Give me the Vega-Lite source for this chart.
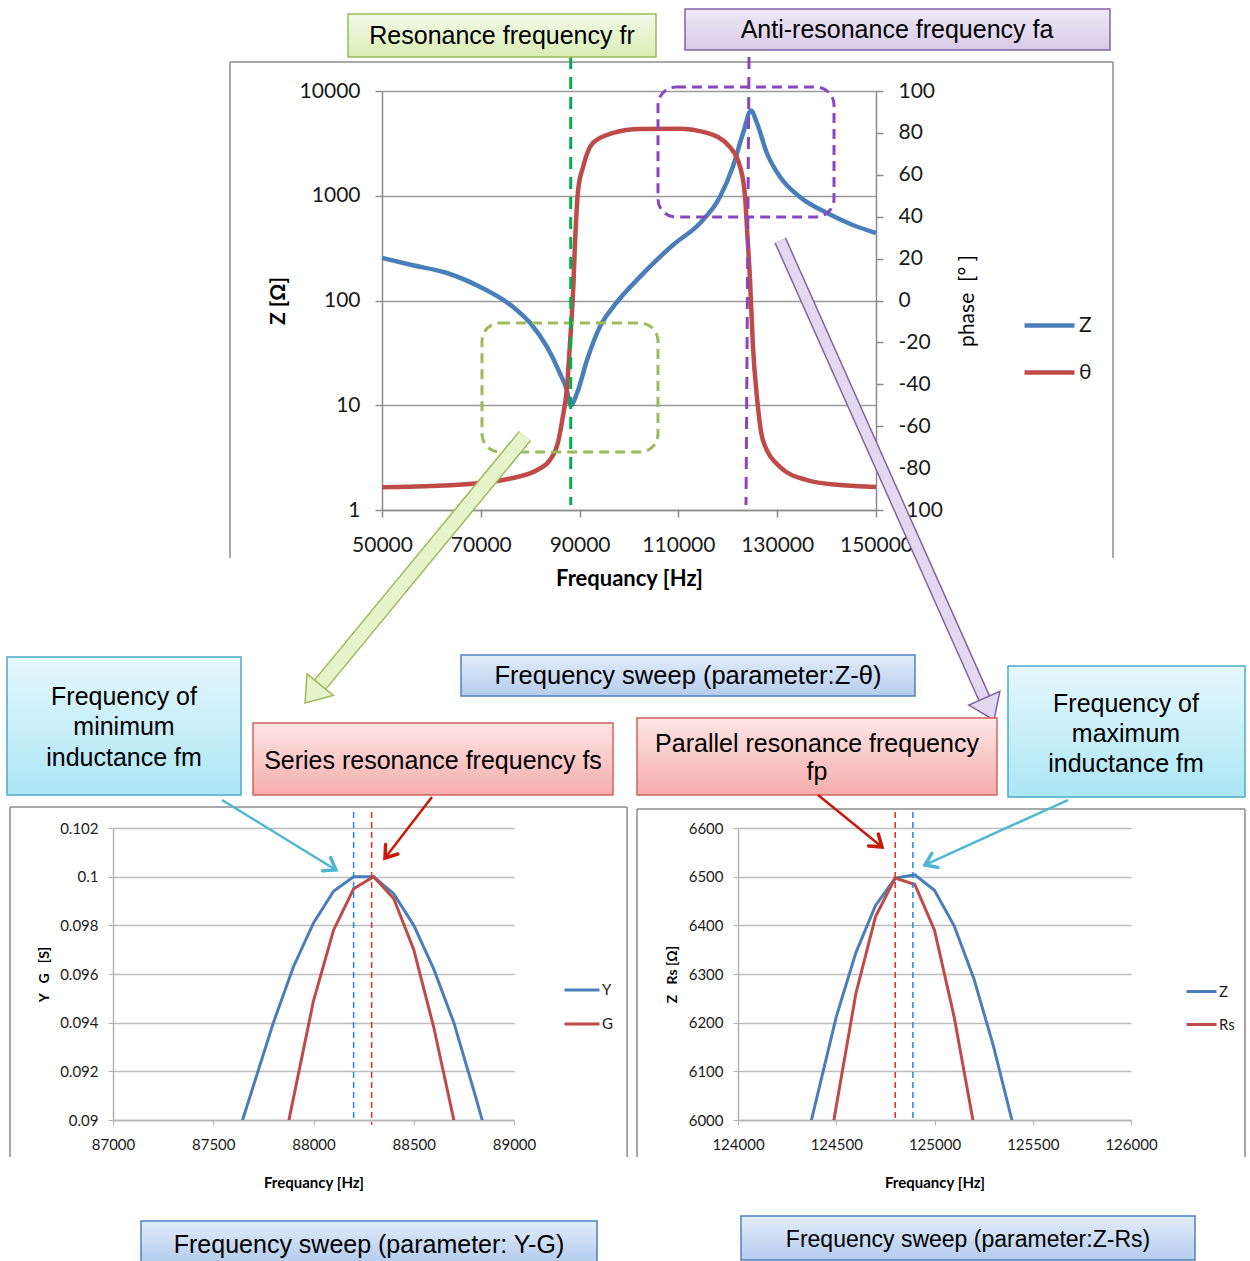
{
"$schema": "https://vega.github.io/schema/vega-lite/v6.json",
"background": "white",
"padding": {"left": 6, "top": 8, "right": 0, "bottom": 0},
"autosize": {"type": "pad"},
"config": {"view": {"stroke": null}, "font": "Lato", "axis": {"labelFont": "Lato", "titleFont": "Lato", "labelColor": "#1a1a1a", "titleColor": "#000"}, "legend": {"labelFont": "Lato", "labelColor": "#1a1a1a"}},
"bounds": "flush",
"spacing": 737,
"resolve": {"scale": {"x": "independent", "y": "independent", "color": "independent"}, "legend": {"color": "independent"}, "axis": {"x": "independent", "y": "independent"}},
"datasets": {
"topZ": [{"f":50000,"Z":255},{"f":56000,"Z":218},{"f":63000,"Z":184},{"f":69800,"Z":135},{"f":76500,"Z":87},{"f":80000,"Z":61},{"f":83400,"Z":36},{"f":86000,"Z":20.3},{"f":87400,"Z":14},{"f":88200,"Z":10},{"f":89500,"Z":13.1},{"f":91500,"Z":27},{"f":94100,"Z":56},{"f":96800,"Z":87},{"f":102200,"Z":168},{"f":108900,"Z":339},{"f":114400,"Z":549},{"f":118400,"Z":973},{"f":121000,"Z":1880},{"f":123100,"Z":3970},{"f":124700,"Z":6500},{"f":125900,"Z":4950},{"f":127900,"Z":2560},{"f":130600,"Z":1510},{"f":134600,"Z":973},{"f":140100,"Z":684},{"f":145300,"Z":526},{"f":150000,"Z":441}],
"topP": [{"f":50000,"p":-89.2},{"f":59700,"p":-88.6},{"f":69800,"p":-87.1},{"f":76500,"p":-84.7},{"f":81400,"p":-80.9},{"f":84000,"p":-76.1},{"f":85600,"p":-68},{"f":86600,"p":-55.6},{"f":87400,"p":-42.7},{"f":88100,"p":-18.9},{"f":88700,"p":5},{"f":89100,"p":28.9},{"f":89700,"p":52.7},{"f":90700,"p":63.7},{"f":92700,"p":75.2},{"f":96800,"p":80},{"f":102200,"p":81.9},{"f":110000,"p":82},{"f":115800,"p":80},{"f":120400,"p":73.3},{"f":122500,"p":63.7},{"f":123500,"p":49.4},{"f":123900,"p":33.7},{"f":124500,"p":9.8},{"f":125100,"p":-22.2},{"f":125900,"p":-46.1},{"f":127100,"p":-66.6},{"f":130600,"p":-79.5},{"f":136000,"p":-85.7},{"f":142700,"p":-88.1},{"f":150000,"p":-89}],
"bl": [{"f":87600,"s":"Y","v":0.0888},{"f":87700,"s":"Y","v":0.0914},{"f":87800,"s":"Y","v":0.094},{"f":87900,"s":"Y","v":0.0963},{"f":88000,"s":"Y","v":0.0981},{"f":88100,"s":"Y","v":0.0994},{"f":88200,"s":"Y","v":0.1},{"f":88300,"s":"Y","v":0.1},{"f":88400,"s":"Y","v":0.0993},{"f":88500,"s":"Y","v":0.098},{"f":88600,"s":"Y","v":0.0962},{"f":88700,"s":"Y","v":0.094},{"f":88800,"s":"Y","v":0.0912},{"f":88900,"s":"Y","v":0.0883},
{"f":87800,"s":"G","v":0.0869},{"f":87900,"s":"G","v":0.0909},{"f":88000,"s":"G","v":0.0949},{"f":88100,"s":"G","v":0.0978},{"f":88200,"s":"G","v":0.0995},{"f":88300,"s":"G","v":0.1},{"f":88400,"s":"G","v":0.0991},{"f":88500,"s":"G","v":0.097},{"f":88600,"s":"G","v":0.0938},{"f":88700,"s":"G","v":0.09},{"f":88800,"s":"G","v":0.086}],
"br": [{"f":124300,"s":"Z","v":5876},{"f":124400,"s":"Z","v":6044},{"f":124500,"s":"Z","v":6212},{"f":124600,"s":"Z","v":6344},{"f":124700,"s":"Z","v":6441},{"f":124800,"s":"Z","v":6497},{"f":124900,"s":"Z","v":6504},{"f":125000,"s":"Z","v":6472},{"f":125100,"s":"Z","v":6399},{"f":125200,"s":"Z","v":6291},{"f":125300,"s":"Z","v":6152},{"f":125400,"s":"Z","v":5990},{"f":125500,"s":"Z","v":5830},
{"f":124400,"s":"Rs","v":5790},{"f":124500,"s":"Rs","v":6028},{"f":124600,"s":"Rs","v":6260},{"f":124700,"s":"Rs","v":6418},{"f":124800,"s":"Rs","v":6497},{"f":124900,"s":"Rs","v":6484},{"f":125000,"s":"Rs","v":6390},{"f":125100,"s":"Rs","v":6212},{"f":125200,"s":"Rs","v":5990},{"f":125300,"s":"Rs","v":5770}]
},
"vconcat": [
{
"bounds": "flush",
"spacing": 224,
"resolve": {"scale": {"x": "independent", "y": "independent", "color": "independent"}, "legend": {"color": "independent"}},
"hconcat": [
{"width": 45, "height": 419, "data": {"values": [{}]}, "mark": {"type": "text", "text": ""}},
{
"width": 494, "height": 419,
"layer": [
{"data": {"name": "topZ"}, "mark": {"type": "line", "strokeWidth": 4.5, "strokeJoin": "round", "interpolate": "monotone"},
 "encoding": {
  "x": {"field": "f", "type": "quantitative", "scale": {"domain": [50000, 150000], "zero": false, "nice": false}, "axis": {"title": "Frequancy [Hz]", "values": [50000,70000,90000,110000,130000,150000], "format": "d", "grid": false, "tickSize": 7, "tickColor": "#8c8c8c", "tickWidth": 1.5, "domainColor": "#8c8c8c", "domainWidth": 1.5, "labelFontSize": 21, "labelPadding": 17, "labelFlush": false, "labelOverlap": false, "titleFontSize": 22, "titleFontWeight": "bold", "titlePadding": 13}},
  "y": {"field": "Z", "type": "quantitative", "scale": {"type": "log", "domain": [1, 10000]}, "axis": {"orient": "left", "title": "Z [Ω]", "values": [1,10,100,1000,10000], "format": "d", "grid": true, "gridColor": "#9a9a9a", "gridWidth": 1.5, "tickSize": 7, "tickColor": "#8c8c8c", "tickWidth": 1.5, "domainColor": "#8c8c8c", "domainWidth": 1.5, "labelFontSize": 21, "labelPadding": 15, "titleFontSize": 21, "titleFontWeight": "bold", "titlePadding": 11}},
  "color": {"datum": "Z", "scale": {"domain": ["Z", "θ"], "range": ["#4a7ebb", "#be4b48"]}, "legend": {"title": null, "orient": "none", "legendX": 640, "legendY": 207, "symbolType": "stroke", "symbolSize": 2500, "symbolStrokeWidth": 4.5, "labelFontSize": 21, "labelOffset": 2, "rowPadding": 9}}
 }},
{"data": {"name": "topP"}, "mark": {"type": "line", "strokeWidth": 4.5, "strokeJoin": "round", "interpolate": "monotone"},
 "encoding": {
  "x": {"field": "f", "type": "quantitative", "scale": {"domain": [50000, 150000], "zero": false, "nice": false}, "axis": {"title": "Frequancy [Hz]"}},
  "y": {"field": "p", "type": "quantitative", "scale": {"domain": [-100, 100], "zero": false, "nice": false}, "axis": {"orient": "right", "title": "phase\u00a0\u00a0[°\u00a0]", "values": [-100,-80,-60,-40,-20,0,20,40,60,80,100], "labelExpr": "replace(datum.label, '\u2212', '-')", "grid": false, "tickSize": 7, "tickColor": "#8c8c8c", "tickWidth": 1.5, "domainColor": "#8c8c8c", "domainWidth": 1.5, "labelFontSize": 21, "labelPadding": 15, "titleFontSize": 21, "titleFontWeight": "normal", "titleAngle": 270, "titleBaseline": "top", "titlePadding": 14}},
  "color": {"datum": "θ"}
 }},
{"data": {"values": [{}]},
 "layer": [
  {"mark": {"type": "rule", "stroke": "#8c8c8c", "strokeWidth": 1.5}, "encoding": {"x": {"datum": 19231}, "y": {"datum": 18913, "scale": {"type": "log", "domain": [1, 10000]}, "axis": null}, "y2": {"datum": 0.348}}},
  {"mark": {"type": "rule", "stroke": "#8c8c8c", "strokeWidth": 1.5}, "encoding": {"x": {"datum": 19231}, "x2": {"datum": 197976}, "y": {"datum": 18913, "scale": {"type": "log", "domain": [1, 10000]}, "axis": null}}},
  {"mark": {"type": "rule", "stroke": "#8c8c8c", "strokeWidth": 1.5}, "encoding": {"x": {"datum": 197976}, "y": {"datum": 18913, "scale": {"type": "log", "domain": [1, 10000]}, "axis": null}, "y2": {"datum": 0.348}}},
  {"mark": {"type": "rect", "fill": null, "stroke": "#9bbb59", "strokeWidth": 3, "strokeDash": [10, 6], "cornerRadius": 18}, "encoding": {"x": {"datum": 70243}, "x2": {"datum": 105871}, "y": {"datum": 60.98, "scale": {"type": "log", "domain": [1, 10000]}, "axis": null}, "y2": {"datum": 3.578}}},
  {"mark": {"type": "rect", "fill": null, "stroke": "#8a46bd", "strokeWidth": 3, "strokeDash": [10, 6], "cornerRadius": 18}, "encoding": {"x": {"datum": 105871}, "x2": {"datum": 141498}, "y": {"datum": 10920, "scale": {"type": "log", "domain": [1, 10000]}, "axis": null}, "y2": {"datum": 626.9}}},
  {"mark": {"type": "rule", "stroke": "#00b050", "strokeWidth": 3, "strokeDash": [12, 8]}, "encoding": {"x": {"datum": 88200}, "y": {"datum": 21115, "scale": {"type": "log", "domain": [1, 10000]}, "axis": null}, "y2": {"datum": 1.116}}},
  {"mark": {"type": "rule", "stroke": "#8a46bd", "strokeWidth": 3, "strokeDash": [12, 8]}, "encoding": {"x": {"datum": 124292}, "x2": {"datum": 123684}, "y": {"datum": 21115, "scale": {"type": "log", "domain": [1, 10000]}, "axis": null}, "y2": {"datum": 1.116}}},
  {"mark": {"type": "rect", "fill": {"gradient": "linear", "x1": 0, "y1": 0, "x2": 0, "y2": 1, "stops": [{"offset": 0, "color": "#f3faea"}, {"offset": 1, "color": "#d8eeb2"}]}, "stroke": "#9bbb59", "strokeWidth": 1.5}, "encoding": {"x": {"datum": 43117}, "x2": {"datum": 105466}, "y": {"datum": 54330, "scale": {"type": "log", "domain": [1, 10000]}, "axis": null}, "y2": {"datum": 21115}}},
  {"mark": {"type": "text", "text": "Resonance frequency fr", "font": "Liberation Sans", "fontSize": 25, "fill": "#000", "align": "center", "baseline": "middle"}, "encoding": {"x": {"datum": 74291}, "y": {"datum": 33500, "scale": {"type": "log", "domain": [1, 10000]}, "axis": null}}},
  {"mark": {"type": "rect", "fill": {"gradient": "linear", "x1": 0, "y1": 0, "x2": 0, "y2": 1, "stops": [{"offset": 0, "color": "#efeaf7"}, {"offset": 1, "color": "#d6cbe8"}]}, "stroke": "#8064a2", "strokeWidth": 1.5}, "encoding": {"x": {"datum": 111336}, "x2": {"datum": 197369}, "y": {"datum": 60650, "scale": {"type": "log", "domain": [1, 10000]}, "axis": null}, "y2": {"datum": 24627}}},
  {"mark": {"type": "text", "text": "Anti-resonance frequency fa", "font": "Liberation Sans", "fontSize": 25, "fill": "#000", "align": "center", "baseline": "middle"}, "encoding": {"x": {"datum": 154251}, "y": {"datum": 38220, "scale": {"type": "log", "domain": [1, 10000]}, "axis": null}}},
  {"mark": {"type": "rect", "fill": {"gradient": "linear", "x1": 0, "y1": 0, "x2": 0, "y2": 1, "stops": [{"offset": 0, "color": "#e3edfa"}, {"offset": 1, "color": "#b4ccee"}]}, "stroke": "#4f81bd", "strokeWidth": 1.5}, "encoding": {"x": {"datum": 65992}, "x2": {"datum": 157895}, "y": {"datum": 0.04127, "scale": {"type": "log", "domain": [1, 10000]}, "axis": null}, "y2": {"datum": 0.01676}}},
  {"mark": {"type": "text", "text": "Frequency sweep (parameter:Z-θ)", "font": "Liberation Sans", "fontSize": 25.5, "fill": "#000", "align": "center", "baseline": "middle"}, "encoding": {"x": {"datum": 111943}, "y": {"datum": 0.02602, "scale": {"type": "log", "domain": [1, 10000]}, "axis": null}}},
  {"mark": {"type": "rule", "stroke": "#9bbb59", "strokeWidth": 16}, "encoding": {"x": {"datum": 78947}, "x2": {"datum": 37247}, "y": {"datum": 5.087, "scale": {"type": "log", "domain": [1, 10000]}, "axis": null}, "y2": {"datum": 0.02088}}},
  {"mark": {"type": "rule", "stroke": "#e6f4cc", "strokeWidth": 13}, "encoding": {"x": {"datum": 78947}, "x2": {"datum": 37247}, "y": {"datum": 5.087, "scale": {"type": "log", "domain": [1, 10000]}, "axis": null}, "y2": {"datum": 0.02088}}},
  {"mark": {"type": "point", "shape": "M0,0L1,1.4L-1,1.4Z", "size": 1156, "angle": 219.5, "filled": true, "fill": "#e6f4cc", "stroke": "#9bbb59", "strokeWidth": 1.5, "opacity": 1}, "encoding": {"x": {"datum": 34413}, "y": {"datum": 0.01437, "scale": {"type": "log", "domain": [1, 10000]}, "axis": null}}},
  {"mark": {"type": "rule", "stroke": "#8064a2", "strokeWidth": 13}, "encoding": {"x": {"datum": 130628}, "x2": {"datum": 172065}, "y": {"datum": 373.9, "scale": {"type": "log", "domain": [1, 10000]}, "axis": null}, "y2": {"datum": 0.01538}}},
  {"mark": {"type": "rule", "stroke": "#e2d9f0", "strokeWidth": 10}, "encoding": {"x": {"datum": 130628}, "x2": {"datum": 172065}, "y": {"datum": 373.9, "scale": {"type": "log", "domain": [1, 10000]}, "axis": null}, "y2": {"datum": 0.01538}}},
  {"mark": {"type": "point", "shape": "M0,0L1,1.4L-1,1.4Z", "size": 1156, "angle": 156, "filled": true, "fill": "#e2d9f0", "stroke": "#8064a2", "strokeWidth": 1.5, "opacity": 1}, "encoding": {"x": {"datum": 173887}, "y": {"datum": 0.00989, "scale": {"type": "log", "domain": [1, 10000]}, "axis": null}}}
 ]}
],
"resolve": {"scale": {"y": "independent"}}
}
]
},
{
"bounds": "flush",
"spacing": 224,
"resolve": {"scale": {"x": "independent", "y": "independent", "color": "independent"}, "legend": {"color": "independent"}},
"hconcat": [
{
"width": 401, "height": 292,
"data": {"values": [{}]},
"layer": [
 {"mark": {"type": "rule", "stroke": "#8c8c8c", "strokeWidth": 1.5}, "encoding": {"x": {"datum": 86486}, "y": {"datum": 0.102863}, "y2": {"datum": 0.088479}}},
 {"mark": {"type": "rule", "stroke": "#8c8c8c", "strokeWidth": 1.5}, "encoding": {"x": {"datum": 86486}, "x2": {"datum": 89564}, "y": {"datum": 0.102863}}},
 {"mark": {"type": "rule", "stroke": "#8c8c8c", "strokeWidth": 1.5}, "encoding": {"x": {"datum": 89564}, "y": {"datum": 0.102863}, "y2": {"datum": 0.088479}}},
 {"data": {"name": "bl"}, "mark": {"type": "line", "strokeWidth": 3, "clip": true},
  "encoding": {
   "x": {"field": "f", "type": "quantitative", "scale": {"domain": [87000, 89000], "nice": false, "zero": false}, "axis": {"title": "Frequancy [Hz]", "values": [87000,87500,88000,88500,89000], "format": "d", "grid": false, "tickSize": 5, "tickColor": "#b3b3b3", "domainColor": "#b3b3b3", "domainWidth": 1.5, "labelFontSize": 15, "labelPadding": 12, "labelFlush": false, "labelOverlap": false, "titleFontSize": 15, "titleFontWeight": "bold", "titlePadding": 23}},
   "y": {"field": "v", "type": "quantitative", "scale": {"domain": [0.09, 0.102], "nice": false, "zero": false}, "axis": {"title": "Y\u00a0\u00a0\u00a0G\u00a0\u00a0\u00a0[S]", "values": [0.09,0.092,0.094,0.096,0.098,0.1,0.102], "format": ".3~f", "grid": true, "gridColor": "#bdbdbd", "gridWidth": 1.5, "tickSize": 5, "tickColor": "#b3b3b3", "domainColor": "#b3b3b3", "domainWidth": 1.5, "labelFontSize": 15, "labelPadding": 10, "titleFontSize": 14, "titleFontWeight": "bold", "titlePadding": 8}},
   "color": {"field": "s", "type": "nominal", "scale": {"domain": ["Y", "G"], "range": ["#4a7ebb", "#be4b48"]}, "legend": {"title": null, "orient": "none", "legendX": 450, "legendY": 143, "symbolType": "stroke", "symbolSize": 1225, "symbolStrokeWidth": 3, "labelFontSize": 15, "labelOffset": 1, "rowPadding": 7}}
  }},
 {"mark": {"type": "rule", "stroke": "#1f8ad6", "strokeWidth": 1.5, "strokeDash": [6, 4]}, "encoding": {"x": {"datum": 88200}, "y": {"datum": 0.102658}, "y2": {"datum": 0.09}}},
 {"mark": {"type": "rule", "stroke": "#e0301e", "strokeWidth": 1.5, "strokeDash": [6, 4]}, "encoding": {"x": {"datum": 88290}, "y": {"datum": 0.102658}, "y2": {"datum": 0.0898}}},
 {"mark": {"type": "rect", "fill": {"gradient": "linear", "x1": 0, "y1": 0, "x2": 0, "y2": 1, "stops": [{"offset": 0, "color": "#e6f8fd"}, {"offset": 1, "color": "#ace6f6"}]}, "stroke": "#4bacc6", "strokeWidth": 1.5}, "encoding": {"x": {"datum": 86471.3}, "x2": {"datum": 87638.4}, "y": {"datum": 0.109027}, "y2": {"datum": 0.103356}}},
 {"mark": {"type": "text", "text": ["Frequency of", "minimum", "inductance fm"], "lineHeight": 30.5, "font": "Liberation Sans", "fontSize": 25, "fill": "#000", "align": "center", "baseline": "middle"}, "encoding": {"x": {"datum": 87054.9}, "y": {"datum": 0.107384}}},
 {"mark": {"type": "rect", "fill": {"gradient": "linear", "x1": 0, "y1": 0, "x2": 0, "y2": 1, "stops": [{"offset": 0, "color": "#fde6e5"}, {"offset": 1, "color": "#f5adab"}]}, "stroke": "#d0635f", "strokeWidth": 1.5}, "encoding": {"x": {"datum": 87698.3}, "x2": {"datum": 89493.8}, "y": {"datum": 0.106315}, "y2": {"datum": 0.103356}}},
 {"mark": {"type": "text", "text": "Series resonance frequency fs", "font": "Liberation Sans", "fontSize": 25, "fill": "#000", "align": "center", "baseline": "middle"}, "encoding": {"x": {"datum": 88596}, "y": {"datum": 0.104753}}},
 {"mark": {"type": "rect", "fill": {"gradient": "linear", "x1": 0, "y1": 0, "x2": 0, "y2": 1, "stops": [{"offset": 0, "color": "#e3edfa"}, {"offset": 1, "color": "#b4ccee"}]}, "stroke": "#4f81bd", "strokeWidth": 1.5}, "encoding": {"x": {"datum": 87139.7}, "x2": {"datum": 89414}, "y": {"datum": 0.085849}, "y2": {"datum": 0.084164}}},
 {"mark": {"type": "text", "text": "Frequency sweep (parameter: Y-G)", "font": "Liberation Sans", "fontSize": 25, "fill": "#000", "align": "center", "baseline": "middle"}, "encoding": {"x": {"datum": 88276.8}, "y": {"datum": 0.084863}}},
 {"mark": {"type": "rule", "stroke": "#4fb6d2", "strokeWidth": 2.5}, "encoding": {"x": {"datum": 87543.6}, "x2": {"datum": 88112.2}, "y": {"datum": 0.103151}, "y2": {"datum": 0.100274}}},
 {"mark": {"type": "point", "shape": "M-0.7,1L0,0L0.7,1", "size": 484, "angle": 121.5, "filled": false, "stroke": "#4fb6d2", "strokeWidth": 3.5, "strokeCap": "round", "opacity": 1}, "encoding": {"x": {"datum": 88112.2}, "y": {"datum": 0.100274}}},
 {"mark": {"type": "rule", "stroke": "#c81a0a", "strokeWidth": 2.5}, "encoding": {"x": {"datum": 88591}, "x2": {"datum": 88356.6}, "y": {"datum": 0.103274}, "y2": {"datum": 0.100767}}},
 {"mark": {"type": "point", "shape": "M-0.7,1L0,0L0.7,1", "size": 484, "angle": 217.6, "filled": false, "stroke": "#c81a0a", "strokeWidth": 3.5, "strokeCap": "round", "opacity": 1}, "encoding": {"x": {"datum": 88356.6}, "y": {"datum": 0.100767}}}
]
},
{
"width": 393, "height": 292,
"data": {"values": [{}]},
"layer": [
 {"mark": {"type": "rule", "stroke": "#8c8c8c", "strokeWidth": 1.5}, "encoding": {"x": {"datum": 123486}, "y": {"datum": 6639}, "y2": {"datum": 5924}}},
 {"mark": {"type": "rule", "stroke": "#8c8c8c", "strokeWidth": 1.5}, "encoding": {"x": {"datum": 123486}, "x2": {"datum": 126580}, "y": {"datum": 6639}}},
 {"mark": {"type": "rule", "stroke": "#8c8c8c", "strokeWidth": 1.5}, "encoding": {"x": {"datum": 126580}, "y": {"datum": 6639}, "y2": {"datum": 5924}}},
 {"data": {"name": "br"}, "mark": {"type": "line", "strokeWidth": 3, "clip": true},
  "encoding": {
   "x": {"field": "f", "type": "quantitative", "scale": {"domain": [124000, 126000], "nice": false, "zero": false}, "axis": {"title": "Frequancy [Hz]", "values": [124000,124500,125000,125500,126000], "format": "d", "grid": false, "tickSize": 5, "tickColor": "#b3b3b3", "domainColor": "#b3b3b3", "domainWidth": 1.5, "labelFontSize": 15, "labelPadding": 12, "labelFlush": false, "labelOverlap": false, "titleFontSize": 15, "titleFontWeight": "bold", "titlePadding": 23}},
   "y": {"field": "v", "type": "quantitative", "scale": {"domain": [6000, 6600], "nice": false, "zero": false}, "axis": {"title": "Z\u00a0\u00a0\u00a0Rs [Ω]", "values": [6000,6100,6200,6300,6400,6500,6600], "format": "d", "grid": true, "gridColor": "#bdbdbd", "gridWidth": 1.5, "tickSize": 5, "tickColor": "#b3b3b3", "domainColor": "#b3b3b3", "domainWidth": 1.5, "labelFontSize": 15, "labelPadding": 10, "titleFontSize": 14, "titleFontWeight": "bold", "titlePadding": 9}},
   "color": {"field": "s", "type": "nominal", "scale": {"domain": ["Z", "Rs"], "range": ["#4a7ebb", "#be4b48"]}, "legend": {"title": null, "orient": "none", "legendX": 447, "legendY": 147, "symbolType": "stroke", "symbolSize": 900, "symbolStrokeWidth": 3, "labelFontSize": 15, "labelOffset": 1, "rowPadding": 8}}
  }},
 {"mark": {"type": "rule", "stroke": "#e0301e", "strokeWidth": 1.5, "strokeDash": [6, 4]}, "encoding": {"x": {"datum": 124800}, "y": {"datum": 6633}, "y2": {"datum": 6000}}},
 {"mark": {"type": "rule", "stroke": "#1f8ad6", "strokeWidth": 1.5, "strokeDash": [6, 4]}, "encoding": {"x": {"datum": 124890}, "y": {"datum": 6633}, "y2": {"datum": 6000}}},
 {"mark": {"type": "rect", "fill": {"gradient": "linear", "x1": 0, "y1": 0, "x2": 0, "y2": 1, "stops": [{"offset": 0, "color": "#fde6e5"}, {"offset": 1, "color": "#f5adab"}]}, "stroke": "#d0635f", "strokeWidth": 1.5}, "encoding": {"x": {"datum": 123486}, "x2": {"datum": 125318}, "y": {"datum": 6826}, "y2": {"datum": 6667.8}}},
 {"mark": {"type": "text", "text": ["Parallel resonance frequency", "fp"], "lineHeight": 28, "font": "Liberation Sans", "fontSize": 25, "fill": "#000", "align": "center", "baseline": "middle"}, "encoding": {"x": {"datum": 124402}, "y": {"datum": 6772.6}}},
 {"mark": {"type": "rect", "fill": {"gradient": "linear", "x1": 0, "y1": 0, "x2": 0, "y2": 1, "stops": [{"offset": 0, "color": "#e6f8fd"}, {"offset": 1, "color": "#ace6f6"}]}, "stroke": "#4bacc6", "strokeWidth": 1.5}, "encoding": {"x": {"datum": 125374}, "x2": {"datum": 126580}, "y": {"datum": 6932.9}, "y2": {"datum": 6663.7}}},
 {"mark": {"type": "text", "text": ["Frequency of", "maximum", "inductance fm"], "lineHeight": 30, "font": "Liberation Sans", "fontSize": 25, "fill": "#000", "align": "center", "baseline": "middle"}, "encoding": {"x": {"datum": 125974.6}, "y": {"datum": 6854.8}}},
 {"mark": {"type": "rect", "fill": {"gradient": "linear", "x1": 0, "y1": 0, "x2": 0, "y2": 1, "stops": [{"offset": 0, "color": "#e3edfa"}, {"offset": 1, "color": "#b4ccee"}]}, "stroke": "#4f81bd", "strokeWidth": 1.5}, "encoding": {"x": {"datum": 124015.3}, "x2": {"datum": 126325.7}, "y": {"datum": 5802.7}, "y2": {"datum": 5712.4}}},
 {"mark": {"type": "text", "text": "Frequency sweep (parameter:Z-Rs)", "font": "Liberation Sans", "fontSize": 23, "fill": "#000", "align": "center", "baseline": "middle"}, "encoding": {"x": {"datum": 125170.5}, "y": {"datum": 5753.4}}},
 {"mark": {"type": "rule", "stroke": "#c81a0a", "strokeWidth": 2.5}, "encoding": {"x": {"datum": 124407.1}, "x2": {"datum": 124732.8}, "y": {"datum": 6667.8}, "y2": {"datum": 6561}}},
 {"mark": {"type": "point", "shape": "M-0.7,1L0,0L0.7,1", "size": 484, "angle": 129.1, "filled": false, "stroke": "#c81a0a", "strokeWidth": 3.5, "strokeCap": "round", "opacity": 1}, "encoding": {"x": {"datum": 124732.8}, "y": {"datum": 6561}}},
 {"mark": {"type": "rule", "stroke": "#4fb6d2", "strokeWidth": 2.5}, "encoding": {"x": {"datum": 125679.4}, "x2": {"datum": 124951.7}, "y": {"datum": 6657.5}, "y2": {"datum": 6524}}},
 {"mark": {"type": "point", "shape": "M-0.7,1L0,0L0.7,1", "size": 484, "angle": 245.6, "filled": false, "stroke": "#4fb6d2", "strokeWidth": 3.5, "strokeCap": "round", "opacity": 1}, "encoding": {"x": {"datum": 124951.7}, "y": {"datum": 6524}}}
]
}
]
}
]
}
